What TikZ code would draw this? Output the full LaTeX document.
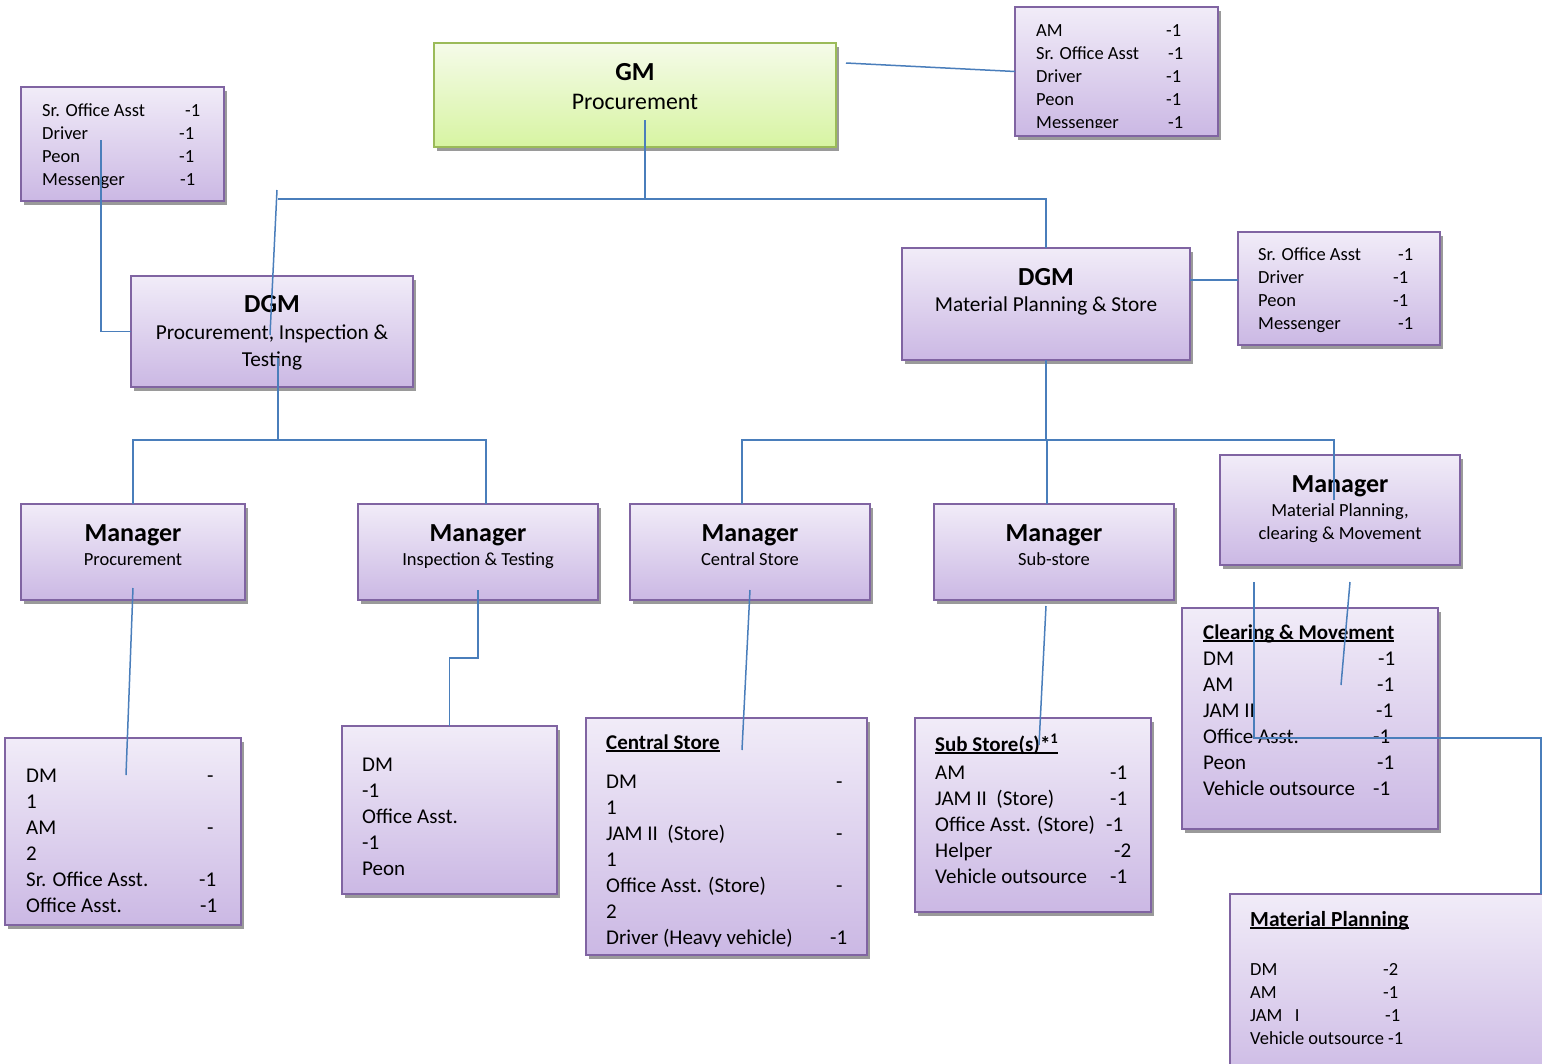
\documentclass[tikz,border=0pt]{standalone}
\usepackage{fontspec}
\setmainfont{Carlito}
\usetikzlibrary{shadows}

\definecolor{lavTop}{HTML}{F1ECF8}
\definecolor{lavBot}{HTML}{CBB8E4}
\definecolor{lavEdge}{HTML}{8064A2}
\definecolor{limeTop}{HTML}{F5FBE9}
\definecolor{limeBot}{HTML}{D7F4A2}
\definecolor{limeEdge}{HTML}{9BBB59}
\definecolor{linkBlue}{HTML}{4A7EBB}
\definecolor{shadowGrey}{HTML}{9A9A9A}

% row fonts for the staff lists
\newcommand\rowsA{\fontsize{18.5}{23}\selectfont}
\newcommand\rowsB{\fontsize{21}{26}\selectfont}
% fixed-width label cell, count follows
\newcommand\cellL[2]{\makebox[#1][l]{#2}}
% bold underlined list heading
\newsavebox\hdrbox
\newcommand\hdr[1]{\sbox\hdrbox{\bfseries #1}\rlap{\rule[-2.5pt]{\wd\hdrbox}{1.3pt}}\usebox\hdrbox}

\begin{document}
\begin{tikzpicture}[x=1pt, y=-1pt,
  box/.style={draw=lavEdge, line width=2pt, top color=lavTop, bottom color=lavBot,
    inner sep=0pt, outer sep=0pt,
    drop shadow={shadow xshift=3pt, shadow yshift=-4pt, fill=shadowGrey, opacity=1}},
  gmbox/.style={box, draw=limeEdge, top color=limeTop, bottom color=limeBot},
  listA/.style={anchor=north west, inner sep=0pt, align=left, font=\rowsA},
  listB/.style={anchor=north west, inner sep=0pt, align=left, font=\rowsB},
  title/.style={anchor=base, inner sep=0pt, font=\bfseries\fontsize{26}{30}\selectfont},
  subA/.style={anchor=base, inner sep=0pt, font=\fontsize{18.5}{22}\selectfont},
  subB/.style={anchor=base, inner sep=0pt, font=\fontsize{21.3}{26}\selectfont},
  subC/.style={anchor=base, inner sep=0pt, font=\fontsize{23.8}{28}\selectfont},
  conn/.style={draw=linkBlue, line width=1.5pt}]

\clip (0,0) rectangle (1542,1063);
\fill[white] (0,0) rectangle (1542,1063);

% ---------- boxes ----------
\node[gmbox, minimum width=402pt, minimum height=104pt] (gm) at (635,95) {};
\node[box, minimum width=203pt, minimum height=129pt] (tr) at (1116.5,71.5) {};
\node[box, minimum width=203pt, minimum height=114pt] (ls) at (122.5,144) {};
\node[box, minimum width=282pt, minimum height=111pt] (dgmL) at (272,331.5) {};
\node[box, minimum width=288pt, minimum height=112pt] (dgmR) at (1046,304) {};
\node[box, minimum width=202pt, minimum height=113pt] (rs) at (1339,288.5) {};
\node[box, minimum width=224pt, minimum height=96pt] (mgrP) at (133,552) {};
\node[box, minimum width=240pt, minimum height=96pt] (mgrI) at (478,552) {};
\node[box, minimum width=240pt, minimum height=96pt] (mgrC) at (750,552) {};
\node[box, minimum width=240pt, minimum height=96pt] (mgrS) at (1054,552) {};
\node[box, minimum width=240pt, minimum height=110pt] (mgrM) at (1340,510) {};
\node[box, minimum width=256pt, minimum height=221pt] (cm) at (1310,718.5) {};
\node[box, minimum width=236pt, minimum height=187pt] (bl) at (123,831.5) {};
\node[box, minimum width=215pt, minimum height=168pt] (ib) at (449.5,810) {};
\node[box, minimum width=281pt, minimum height=237pt] (cs) at (726.5,836.5) {};
\node[box, minimum width=236pt, minimum height=194pt] (ss) at (1033,815) {};
\node[box, minimum width=350pt, minimum height=196pt] (mp) at (1405,992) {};

% ---------- titles ----------
\node[title] (gmT) at (635,80) {GM};
\node[subC] (gmS) at (635,109) {Procurement};

\node[title] (dgmLT) at (272,312) {DGM};
\node[subB] (dgmLS1) at (272,339) {Procurement, Inspection \&};
\node[subB] (dgmLS2) at (272,366) {Testing};

\node[title] (dgmRT) at (1046,285) {DGM};
\node[subB] (dgmRS) at (1046,311) {Material Planning \& Store};

\node[title] (mgrPT) at (133,541) {Manager};
\node[subA] (mgrPS) at (133,565) {Procurement};
\node[title] (mgrIT) at (478,541) {Manager};
\node[subA] (mgrIS) at (478,565) {Inspection \& Testing};
\node[title] (mgrCT) at (750,541) {Manager};
\node[subA] (mgrCS) at (750,565) {Central Store};
\node[title] (mgrST) at (1054,541) {Manager};
\node[subA] (mgrSS) at (1054,565) {Sub-store};
\node[title] (mgrMT) at (1340,492) {Manager};
\node[subA] (mgrMS1) at (1340,516) {Material Planning,};
\node[subA] (mgrMS2) at (1340,539) {clearing \& Movement};

% ---------- staff lists ----------
\begin{scope}
  \clip (1015,7) rectangle (1218,127);
  \node[listA] (trL) at (1036,19.9) {\strut\cellL{130pt}{AM}-1\\
    \cellL{132pt}{Sr. Office Asst}-1\\
    \cellL{130pt}{Driver}-1\\
    \cellL{130pt}{Peon}-1\\
    \cellL{132pt}{Messenger}-1};
\end{scope}

\node[listA] (lsL) at (42,99.9) {\strut\cellL{143pt}{Sr. Office Asst}-1\\
  \cellL{137pt}{Driver}-1\\
  \cellL{137pt}{Peon}-1\\
  \cellL{138pt}{Messenger}-1};

\node[listA] (rsL) at (1258,243.9) {\strut\cellL{140pt}{Sr. Office Asst}-1\\
  \cellL{135pt}{Driver}-1\\
  \cellL{135pt}{Peon}-1\\
  \cellL{140pt}{Messenger}-1};

\node[listB] (blL) at (26,763.8) {\strut\cellL{181pt}{DM}-\\
  1\\
  \cellL{181pt}{AM}-\\
  2\\
  \cellL{173pt}{Sr. Office Asst.}-1\\
  \cellL{174pt}{Office Asst.}-1};

\node[listB] (ibL) at (362,752.8) {\strut DM\\
  -1\\
  Office Asst.\\
  -1\\
  Peon};

\begin{scope}
  \clip (586,718) rectangle (867,946);
  \node[listB] (csL) at (606,730.8) {\strut\hdr{Central Store}\\[13pt]
    \cellL{230pt}{DM}-\\
    1\\
    \cellL{230pt}{JAM II\ \ (Store)}-\\
    1\\
    \cellL{230pt}{Office Asst. (Store)}-\\
    2\\
    \cellL{224pt}{Driver (Heavy vehicle)}-1};
\end{scope}

\node[listB] (ssL) at (935,732.8) {\strut\hdr{Sub Store(s)*\textsuperscript{1}}\\[2pt]
  \cellL{175pt}{AM}-1\\
  \cellL{175pt}{JAM II\ \ (Store)}-1\\
  \cellL{171pt}{Office Asst. (Store)}-1\\
  \cellL{179pt}{Helper}-2\\
  \cellL{175pt}{Vehicle outsource}-1};

\node[listB] (cmL) at (1203,620.8) {\strut\hdr{Clearing \& Movement}\\
  \cellL{175pt}{DM}-1\\
  \cellL{174pt}{AM}-1\\
  \cellL{173pt}{JAM II}-1\\
  \cellL{170pt}{Office Asst.}-1\\
  \cellL{174pt}{Peon}-1\\
  \cellL{170pt}{Vehicle outsource}-1};

\node[listA] (mpL) at (1250,909.9) {\strut{\fontsize{21.5}{23}\selectfont\hdr{Material Planning}}\\[26pt]
  \cellL{133pt}{DM}-2\\
  \cellL{133pt}{AM}-1\\
  \cellL{135pt}{JAM\ \ \ I}-1\\
  Vehicle outsource -1};

% ---------- connectors ----------
\coordinate (gmR) at (846,63);
\coordinate (gmIn) at (645,120);
\coordinate (busTop) at (645,199);
\coordinate (busL) at (278,199);
\coordinate (dl1) at (277,190);
\coordinate (dl2) at (270,335);
\coordinate (dl3) at (278,358);
\coordinate (busM) at (278,440);
\coordinate (ls1) at (101,140);
\coordinate (busR) at (1046,440);
\coordinate (mm1) at (1334,500);
\coordinate (p1) at (133,588);
\coordinate (p2) at (126,775);
\coordinate (i1) at (478,590);
\coordinate (c1) at (750,590);
\coordinate (c2) at (742,750);
\coordinate (s1) at (1046,606);
\coordinate (s2) at (1039,745);
\coordinate (m1) at (1350,582);
\coordinate (m2) at (1341,685);
\coordinate (m3) at (1254,582);
\coordinate (mr) at (1541,738);

\draw[conn] (gmR) -- (tr.west);
\draw[conn] (gmIn) -- (busTop);
\draw[conn] (busL) -- (busL -| dgmR.north) -- (dgmR.north);
\draw[conn] (dl1) -- (dl2);
\draw[conn] (dl3) -- (busM);
\draw[conn] (ls1) |- (dgmL.west);
\draw[conn] (mgrP.north) -- (mgrP.north |- busM) -- ([xshift=8pt]mgrI.north |- busM) -- ([xshift=8pt]mgrI.north);
\draw[conn] (dgmR.east |- 0,280) -- (rs.west |- 0,280);
\draw[conn] (dgmR.south) -- (busR);
\draw[conn] ([xshift=-8pt]mgrC.north) -- ([xshift=-8pt]mgrC.north |- busR) -- (mm1 |- busR) -- (mm1);
\draw[conn] ([xshift=-7pt]mgrS.north) -- ([xshift=-7pt]mgrS.north |- busR);
\draw[conn] (p1) -- (p2);
\draw[conn] (i1) |- (ib.north |- 0,658) -- (ib.north);
\draw[conn] (c1) -- (c2);
\draw[conn] (s1) -- (s2);
\draw[conn] (m1) -- (m2);
\draw[conn] (m3) |- (mr) -- (mr |- mp.north);
\end{tikzpicture}
\end{document}
